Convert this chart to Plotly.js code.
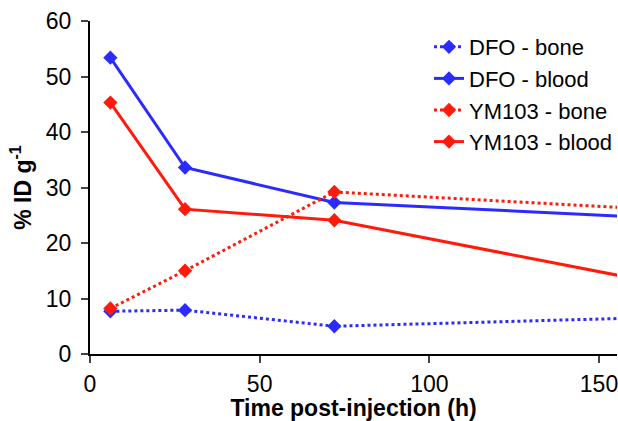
<!DOCTYPE html>
<html><head><meta charset="utf-8">
<script src="https://cdn.plot.ly/plotly-3.0.1.min.js"></script>
<style>html,body{margin:0;padding:0;background:#fff}#chart{width:618px;height:421px}</style>
</head><body><div id="chart"></div>
<script>
const timeH = [6, 28, 72, 168];
const dfoBone = [7.7, 7.9, 5.0, 6.6];
const dfoBlood = [53.4, 33.6, 27.3, 24.5];
const ym103Bone = [8.2, 15.0, 29.2, 26.0];
const ym103Blood = [45.3, 26.1, 24.1, 12.7];
const seriesNames = ['DFO - bone', 'DFO - blood', 'YM103 - bone', 'YM103 - blood'];
const xTicks = [0, 50, 100, 150];
const yTicks = [0, 10, 20, 30, 40, 50, 60];

const blue = '#2b2bff', red = '#ff1a0a';
function tr(y, name, color, dash) {
  return {x: timeH, y: y, name: name, type: 'scatter', mode: 'lines+markers',
    line: {color: color, width: 3, dash: dash},
    marker: {symbol: 'diamond', size: 11, color: color}};
}
const data = [
  tr(dfoBone, seriesNames[0], blue, 'dot'),
  tr(dfoBlood, seriesNames[1], blue, 'solid'),
  tr(ym103Bone, seriesNames[2], red, 'dot'),
  tr(ym103Blood, seriesNames[3], red, 'solid')
];
const font = {family: 'Liberation Sans, Arial, sans-serif', color: '#000'};
const layout = {
  width: 618, height: 421,
  margin: {l: 90, r: 0, t: 21, b: 67},
  paper_bgcolor: '#fff', plot_bgcolor: '#fff',
  font: Object.assign({size: 23}, font),
  showlegend: true,
  legend: {x: 0.643, y: 0.985, xanchor: 'left', yanchor: 'top', bgcolor: 'rgba(0,0,0,0)',
    font: Object.assign({size: 22}, font), itemwidth: 30, tracegroupgap: 0},
  xaxis: {range: [0, 155.3], tickvals: xTicks, ticks: 'outside', ticklen: 7, tickwidth: 2,
    automargin: false, ticklabeloverflow: 'allow',
    showline: true, linewidth: 2, linecolor: '#000', showgrid: false, zeroline: false,
    tickfont: Object.assign({size: 23}, font), ticklabelstandoff: 1,
    title: {text: '<b>Time post-injection (h)</b>', font: Object.assign({size: 23}, font), standoff: 10}},
  yaxis: {range: [0, 60], tickvals: yTicks, ticks: 'outside', ticklen: 7, tickwidth: 2,
    automargin: false,
    showline: true, linewidth: 2, linecolor: '#000', showgrid: false, zeroline: false,
    tickfont: Object.assign({size: 23}, font), ticklabelstandoff: 5,
    title: {text: '<b>% ID g<sup>-1</sup></b>', font: Object.assign({size: 23}, font), standoff: 8}}
};
Plotly.newPlot('chart', data, layout, {displayModeBar: false, staticPlot: true});
</script></body></html>
